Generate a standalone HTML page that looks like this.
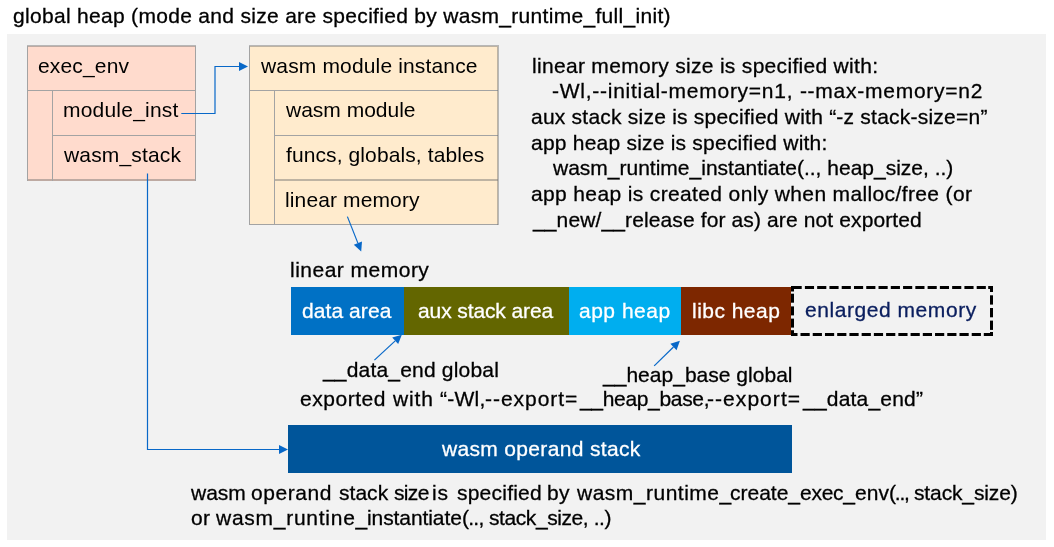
<!DOCTYPE html>
<html><head><meta charset="utf-8">
<style>
html,body{margin:0;padding:0;}
body{width:1054px;height:547px;background:#fff;position:relative;overflow:hidden;font-family:"Liberation Sans",sans-serif;color:#000;}
.a{position:absolute;}
.t{position:absolute;white-space:pre;line-height:1;will-change:transform;}
.hl{position:absolute;height:1px;background:#a3a3a3;}
.vl{position:absolute;width:1px;background:#a3a3a3;}
.seg{position:absolute;top:287px;height:48px;}
</style></head><body>
<div class="a" style="left:7px;top:34px;width:1039px;height:506px;background:#f2f2f2;"></div>
<div class="a" style="left:27px;top:46px;width:169px;height:135px;background:#ffdbcd;"></div>
<div class="a" style="left:27px;top:45px;width:169px;height:2px;background:rgba(110,110,110,0.45);"></div>
<div class="hl" style="left:27px;top:90px;width:169px;"></div>
<div class="hl" style="left:52px;top:135px;width:144px;"></div>
<div class="a" style="left:27px;top:179px;width:169px;height:2px;background:rgba(110,110,110,0.45);"></div>
<div class="vl" style="left:27px;top:46px;height:135px;"></div>
<div class="vl" style="left:52px;top:90px;height:91px;"></div>
<div class="vl" style="left:195px;top:46px;height:135px;"></div>
<div class="a" style="left:249px;top:46px;width:249px;height:179px;background:#ffebcd;"></div>
<div class="a" style="left:249px;top:45px;width:250px;height:2px;background:rgba(110,110,110,0.45);"></div>
<div class="hl" style="left:249px;top:90px;width:249px;"></div>
<div class="hl" style="left:274px;top:135px;width:224px;"></div>
<div class="a" style="left:274px;top:179px;width:224px;height:2px;background:rgba(110,110,110,0.45);"></div>
<div class="hl" style="left:249px;top:224px;width:249px;"></div>
<div class="vl" style="left:249px;top:46px;height:179px;"></div>
<div class="vl" style="left:274px;top:90px;height:135px;"></div>
<div class="a" style="left:497px;top:47px;width:2px;height:178px;background:rgba(110,110,110,0.45);"></div>
<div class="seg" style="left:291px;width:113px;background:#0071c5;"></div>
<div class="seg" style="left:404px;width:165px;background:#636600;"></div>
<div class="seg" style="left:569px;width:112px;background:#00aeef;"></div>
<div class="seg" style="left:681px;width:110px;background:#7d2700;"></div>
<svg class="a" style="left:0;top:0;" width="1054" height="547"><g fill="#000"><rect x="791.00" y="286.00" width="10.70" height="3.00"/><rect x="804.90" y="286.00" width="9.15" height="3.00"/><rect x="817.17" y="286.00" width="9.15" height="3.00"/><rect x="829.44" y="286.00" width="9.15" height="3.00"/><rect x="841.71" y="286.00" width="9.15" height="3.00"/><rect x="853.98" y="286.00" width="9.15" height="3.00"/><rect x="866.25" y="286.00" width="9.15" height="3.00"/><rect x="878.52" y="286.00" width="9.15" height="3.00"/><rect x="890.79" y="286.00" width="9.15" height="3.00"/><rect x="903.06" y="286.00" width="9.15" height="3.00"/><rect x="915.33" y="286.00" width="9.15" height="3.00"/><rect x="927.60" y="286.00" width="9.15" height="3.00"/><rect x="939.87" y="286.00" width="9.15" height="3.00"/><rect x="952.14" y="286.00" width="9.15" height="3.00"/><rect x="964.41" y="286.00" width="9.15" height="3.00"/><rect x="976.68" y="286.00" width="9.15" height="3.00"/><rect x="988.20" y="286.00" width="4.80" height="3.00"/><rect x="791.00" y="333.00" width="6.50" height="3.00"/><rect x="800.50" y="333.00" width="9.20" height="3.00"/><rect x="812.73" y="333.00" width="9.20" height="3.00"/><rect x="824.96" y="333.00" width="9.20" height="3.00"/><rect x="837.19" y="333.00" width="9.20" height="3.00"/><rect x="849.42" y="333.00" width="9.20" height="3.00"/><rect x="861.65" y="333.00" width="9.20" height="3.00"/><rect x="873.88" y="333.00" width="9.20" height="3.00"/><rect x="886.11" y="333.00" width="9.20" height="3.00"/><rect x="898.34" y="333.00" width="9.20" height="3.00"/><rect x="910.57" y="333.00" width="9.20" height="3.00"/><rect x="922.80" y="333.00" width="9.20" height="3.00"/><rect x="935.03" y="333.00" width="9.20" height="3.00"/><rect x="947.26" y="333.00" width="9.20" height="3.00"/><rect x="959.49" y="333.00" width="9.20" height="3.00"/><rect x="971.72" y="333.00" width="9.20" height="3.00"/><rect x="983.80" y="333.00" width="9.20" height="3.00"/><rect x="791.00" y="286.00" width="3.00" height="5.50"/><rect x="791.00" y="293.70" width="3.00" height="9.00"/><rect x="791.00" y="306.40" width="3.00" height="9.00"/><rect x="791.00" y="318.60" width="3.00" height="9.00"/><rect x="791.00" y="330.20" width="3.00" height="5.80"/><rect x="990.00" y="286.00" width="3.00" height="6.00"/><rect x="990.00" y="295.30" width="3.00" height="9.30"/><rect x="990.00" y="308.00" width="3.00" height="9.30"/><rect x="990.00" y="320.60" width="3.00" height="9.30"/><rect x="990.00" y="332.00" width="3.00" height="4.00"/></g></svg>
<div class="a" style="left:288px;top:425px;width:504px;height:48px;background:#00559a;"></div>
<div class="t" id="exec_env" style="left:38.00px;top:55px;font-size:21px;letter-spacing:0.159px;">exec_env</div>
<div class="t" id="module_inst" style="left:63.00px;top:99px;font-size:21px;letter-spacing:0.21px;">module_inst</div>
<div class="t" id="wasm_stack" style="left:64.00px;top:144px;font-size:21px;letter-spacing:0.167px;">wasm_stack</div>
<div class="t" id="wmi" style="left:261.00px;top:55px;font-size:21px;letter-spacing:0.152px;">wasm module instance</div>
<div class="t" id="wm" style="left:286.00px;top:99px;font-size:21px;">wasm module</div>
<div class="t" id="funcs" style="left:286.00px;top:144px;font-size:21px;letter-spacing:0.102px;">funcs, globals, tables</div>
<div class="t" id="linmem" style="left:285.00px;top:189px;font-size:21px;letter-spacing:0.125px;">linear memory</div>
<div class="t" id="title" style="left:13.00px;top:5px;font-size:21px;letter-spacing:0.307px;-webkit-text-stroke:0.3px #000;">global heap (mode and size are specified by wasm_runtime_full_init)</div>
<div class="t" id="r1" style="left:532.00px;top:55px;font-size:21px;letter-spacing:0.308px;-webkit-text-stroke:0.3px #000;">linear memory size is specified with:</div>
<div class="t" id="r2" style="left:552.00px;top:80px;font-size:21px;letter-spacing:0.744px;-webkit-text-stroke:0.3px #000;">-Wl,--initial-memory=n1, --max-memory=n2</div>
<div class="t" id="r3" style="left:531.00px;top:106px;font-size:21px;letter-spacing:0.228px;-webkit-text-stroke:0.3px #000;">aux stack size is specified with “-z stack-size=n”</div>
<div class="t" id="r4" style="left:531.00px;top:132px;font-size:21px;letter-spacing:0.221px;-webkit-text-stroke:0.3px #000;">app heap size is specified with:</div>
<div class="t" id="r5" style="left:553.00px;top:157px;font-size:21px;-webkit-text-stroke:0.3px #000;">wasm_runtime_instantiate(.., heap_size, ..)</div>
<div class="t" id="r6" style="left:531.00px;top:183px;font-size:21px;letter-spacing:0.364px;-webkit-text-stroke:0.3px #000;">app heap is created only when malloc/free (or</div>
<div class="t" id="r7" style="left:533.00px;top:209px;font-size:21px;letter-spacing:0.121px;-webkit-text-stroke:0.3px #000;">__new/__release for as) are not exported</div>
<div class="t" id="lbl" style="left:290.00px;top:259px;font-size:21px;letter-spacing:0.485px;-webkit-text-stroke:0.3px #000;">linear memory</div>
<div class="t" id="data" style="left:302.00px;top:300px;font-size:21px;letter-spacing:0.075px;color:#fff;-webkit-text-stroke:0.3px #fff;">data area</div>
<div class="t" id="aux" style="left:418.00px;top:300px;font-size:21px;letter-spacing:-0.106px;color:#fff;-webkit-text-stroke:0.3px #fff;">aux stack area</div>
<div class="t" id="app" style="left:579.00px;top:300px;font-size:21px;letter-spacing:0.501px;color:#fff;-webkit-text-stroke:0.3px #fff;">app heap</div>
<div class="t" id="libc" style="left:692.00px;top:300px;font-size:21px;letter-spacing:0.475px;color:#fff;-webkit-text-stroke:0.3px #fff;">libc heap</div>
<div class="t" id="enl" style="left:805.00px;top:299px;font-size:21px;letter-spacing:0.555px;color:#0a1e5e;-webkit-text-stroke:0.3px #0a1e5e;">enlarged memory</div>
<div class="t" id="dend" style="left:323.00px;top:359px;font-size:21px;letter-spacing:0.188px;-webkit-text-stroke:0.3px #000;">__data_end global</div>
<div class="t" id="hbase" style="left:603.00px;top:364px;font-size:21px;letter-spacing:0.02px;-webkit-text-stroke:0.3px #000;">__heap_base global</div>
<div class="t" id="exp_0" style="left:299.60px;top:388px;font-size:21px;letter-spacing:0.543px;-webkit-text-stroke:0.3px #000;">exported </div>
<div class="t" id="exp_1" style="left:393.20px;top:388px;font-size:21px;letter-spacing:0.846px;-webkit-text-stroke:0.3px #000;">with </div>
<div class="t" id="exp_2" style="left:439.80px;top:388px;font-size:21px;letter-spacing:0.254px;-webkit-text-stroke:0.3px #000;">“-Wl,</div>
<div class="t" id="exp_3" style="left:485.20px;top:388px;font-size:21px;letter-spacing:0.966px;-webkit-text-stroke:0.3px #000;">--export=</div>
<div class="t" id="exp_4" style="left:580.40px;top:388px;font-size:21px;letter-spacing:-0.329px;-webkit-text-stroke:0.3px #000;">__heap_base,</div>
<div class="t" id="exp_5" style="left:706.80px;top:388px;font-size:21px;letter-spacing:1.055px;-webkit-text-stroke:0.3px #000;">--export=</div>
<div class="t" id="exp_6" style="left:803.20px;top:388px;font-size:21px;letter-spacing:0.202px;-webkit-text-stroke:0.3px #000;">__data_end”</div>
<div class="t" id="wos" style="left:442.00px;top:438px;font-size:21px;letter-spacing:0.333px;color:#fff;-webkit-text-stroke:0.3px #fff;">wasm operand stack</div>
<div class="t" id="b1_0" style="left:191.00px;top:482px;font-size:21px;letter-spacing:0.006px;-webkit-text-stroke:0.3px #000;">wasm </div>
<div class="t" id="b1_1" style="left:251.00px;top:482px;font-size:21px;letter-spacing:0.543px;-webkit-text-stroke:0.3px #000;">operand </div>
<div class="t" id="b1_2" style="left:339.00px;top:482px;font-size:21px;letter-spacing:0.029px;-webkit-text-stroke:0.3px #000;">stack </div>
<div class="t" id="b1_3" style="left:394.00px;top:482px;font-size:21px;letter-spacing:-0.674px;-webkit-text-stroke:0.3px #000;">size </div>
<div class="t" id="b1_4" style="left:432.00px;top:482px;font-size:21px;letter-spacing:0.9px;-webkit-text-stroke:0.3px #000;">is </div>
<div class="t" id="b1_5" style="left:457.00px;top:482px;font-size:21px;letter-spacing:0.221px;-webkit-text-stroke:0.3px #000;">specified </div>
<div class="t" id="b1_6" style="left:547.00px;top:482px;font-size:21px;letter-spacing:0.233px;-webkit-text-stroke:0.3px #000;">by </div>
<div class="t" id="b1_7" style="left:577.00px;top:482px;font-size:21px;letter-spacing:0.492px;-webkit-text-stroke:0.3px #000;">wasm_runtime_</div>
<div class="t" id="b1_8" style="left:730.00px;top:482px;font-size:21px;letter-spacing:-0.002px;-webkit-text-stroke:0.3px #000;">create_</div>
<div class="t" id="b1_9" style="left:800.00px;top:482px;font-size:21px;letter-spacing:-0.263px;-webkit-text-stroke:0.3px #000;">exec_</div>
<div class="t" id="b1_10" style="left:855.00px;top:482px;font-size:21px;letter-spacing:0.085px;-webkit-text-stroke:0.3px #000;">env</div>
<div class="t" id="b1_11" style="left:889.00px;top:482px;font-size:21px;letter-spacing:-1.223px;-webkit-text-stroke:0.3px #000;">(.., </div>
<div class="t" id="b1_12" style="left:914.00px;top:482px;font-size:21px;letter-spacing:-0.129px;-webkit-text-stroke:0.3px #000;">stack_size)</div>
<div class="t" id="b2_0" style="left:191.00px;top:507px;font-size:21px;letter-spacing:0.367px;-webkit-text-stroke:0.3px #000;">or </div>
<div class="t" id="b2_1" style="left:216.00px;top:507px;font-size:21px;letter-spacing:0.74px;-webkit-text-stroke:0.3px #000;">wasm_runtine_</div>
<div class="t" id="b2_2" style="left:367.00px;top:507px;font-size:21px;letter-spacing:-0.09px;-webkit-text-stroke:0.3px #000;">instantiate</div>
<div class="t" id="b2_3" style="left:462.00px;top:507px;font-size:21px;letter-spacing:-0.762px;-webkit-text-stroke:0.3px #000;">(.., </div>
<div class="t" id="b2_4" style="left:489.00px;top:507px;font-size:21px;letter-spacing:-0.422px;-webkit-text-stroke:0.3px #000;">stack_size, ..)</div>
<svg class="a" style="left:0;top:0;" width="1054" height="547">
<polyline points="181.30,113.50 215.00,113.50 215.00,66.50 239.00,66.50" fill="none" stroke="#0868c8" stroke-width="1.2"/>
<polygon points="248.00,66.50 239.00,70.90 239.00,62.10" fill="#0868c8"/>
<polyline points="147.50,173.50 147.50,449.50 279.00,449.50" fill="none" stroke="#0868c8" stroke-width="1.2"/>
<polygon points="288.00,449.50 279.00,453.90 279.00,445.10" fill="#0868c8"/>
<polyline points="347.40,216.60 357.89,243.13" fill="none" stroke="#0868c8" stroke-width="1.2"/>
<polygon points="361.20,251.50 353.80,244.75 361.98,241.51" fill="#0868c8"/>
<polyline points="374.40,360.10 395.20,340.82" fill="none" stroke="#0868c8" stroke-width="1.2"/>
<polygon points="401.80,334.70 398.19,344.05 392.21,337.59" fill="#0868c8"/>
<polyline points="654.20,365.90 673.47,347.00" fill="none" stroke="#0868c8" stroke-width="1.2"/>
<polygon points="679.90,340.70 676.55,350.14 670.39,343.86" fill="#0868c8"/>
</svg>
</body></html>
